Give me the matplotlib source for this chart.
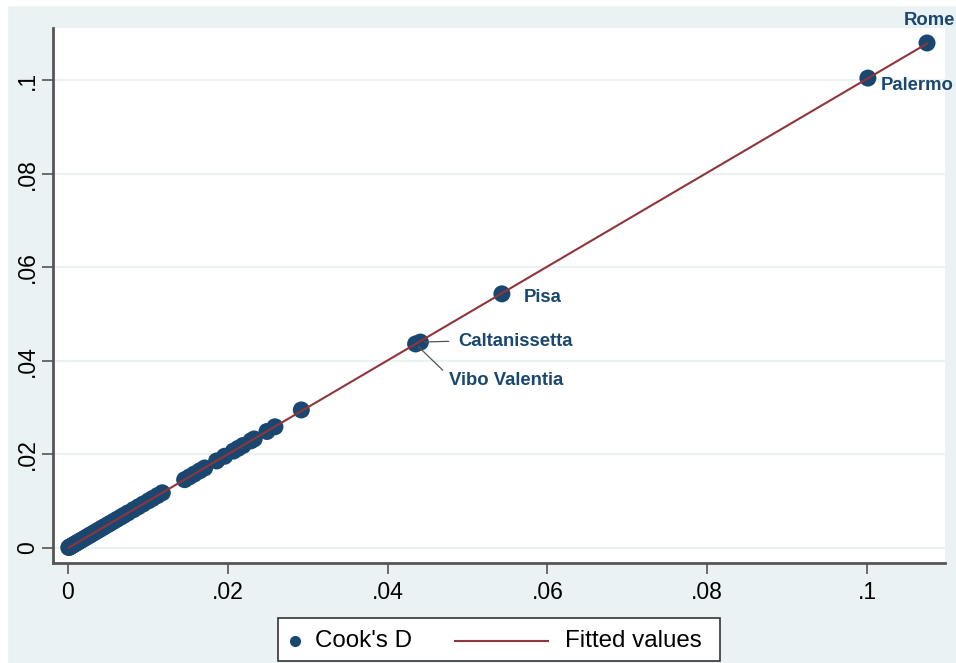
import matplotlib
matplotlib.use("Agg")
import matplotlib.pyplot as plt
import numpy as np
from matplotlib.patches import Rectangle
from matplotlib.lines import Line2D

plt.rcParams['font.family'] = ['Liberation Sans', 'DejaVu Sans']

# Data
x_vals = [0.0001, 0.0002, 0.0003, 0.0005, 0.0006, 0.0008, 0.0010, 0.0012, 0.0014, 0.0016,
          0.0018, 0.0021, 0.0023, 0.0026, 0.0028, 0.0031, 0.0034, 0.0037, 0.0040, 0.0043,
          0.0046, 0.0050, 0.0053, 0.0057, 0.0061, 0.0066, 0.0070, 0.0075, 0.0082, 0.0088,
          0.0094, 0.0101, 0.0106, 0.0112, 0.0118, 0.0146, 0.0152, 0.0158, 0.0165, 0.0171,
          0.0186, 0.0196, 0.0207, 0.0213, 0.0219, 0.0229, 0.0233, 0.0249, 0.0259, 0.0292,
          0.0435, 0.0441, 0.0543, 0.1001, 0.1075]
cooks_d = [0.0001, 0.0002, 0.0003, 0.0005, 0.0006, 0.0008, 0.0010, 0.0012, 0.0014, 0.0016,
           0.0018, 0.0021, 0.0023, 0.0026, 0.0028, 0.0031, 0.0034, 0.0037, 0.0040, 0.0043,
           0.0046, 0.0050, 0.0053, 0.0057, 0.0061, 0.0066, 0.0070, 0.0075, 0.0082, 0.0088,
           0.0094, 0.0101, 0.0106, 0.0112, 0.0118, 0.0146, 0.0152, 0.0158, 0.0165, 0.0171,
           0.0186, 0.0196, 0.0207, 0.0213, 0.0219, 0.0229, 0.0233, 0.0249, 0.0259, 0.0295,
           0.0436, 0.0440, 0.0543, 0.1004, 0.1079]

label_names = ["Rome", "Palermo", "Pisa", "Caltanissetta", "Vibo Valentia"]
label_x = [0.1075, 0.1001, 0.0543, 0.0441, 0.0435]
label_y = [0.1079, 0.1004, 0.0543, 0.0440, 0.0436]

x_ticks = [0, 0.02, 0.04, 0.06, 0.08, 0.1]
x_ticklabels = ["0", ".02", ".04", ".06", ".08", ".1"]
y_ticks = [0, 0.02, 0.04, 0.06, 0.08, 0.1]
y_ticklabels = ["0", ".02", ".04", ".06", ".08", ".1"]

legend_labels = ["Cook's D", "Fitted values"]

NAVY = "#1A476F"
MAROON = "#90353B"
BG = "#EAF2F3"

W, H = 956, 663
fig = plt.figure(figsize=(W / 100, H / 100), dpi=100, facecolor=BG)
# thin white margin on top and left like the screenshot
fig.patches.append(Rectangle((0, 0), 7 / W, 1, transform=fig.transFigure, color="white", zorder=0))
fig.patches.append(Rectangle((0, 1 - 5 / H), 1, 5 / H, transform=fig.transFigure, color="white", zorder=0))

ax = fig.add_axes([53 / W, 1 - 563 / H, (945 - 53) / W, (563 - 28) / H])
ax.set_facecolor("white")

xs = np.array(x_vals)
ys = np.array(cooks_d)
coef = np.polyfit(xs, ys, 1)
xf = np.array([xs.min(), xs.max()])
yf = np.polyval(coef, xf)

ax.scatter(xs, ys, s=150, color=NAVY, edgecolors="none", zorder=3)
ax.plot(xf, yf, color=MAROON, lw=1.5, zorder=4)

ax.set_xlim(-0.001875, 0.10975)
ax.set_ylim(-0.0032, 0.1111)

ax.set_xticks(x_ticks)
ax.set_xticklabels(x_ticklabels)
ax.set_yticks(y_ticks)
ax.set_yticklabels(y_ticklabels, rotation=90, va="center")
ax.tick_params(axis="both", direction="out", length=8, width=1.2, color="#555555",
               labelsize=16.6, labelcolor="black")
ax.tick_params(axis="x", pad=5)
ax.tick_params(axis="y", pad=2)

ax.grid(axis="y", color="#EAF2F3", lw=1.5, zorder=0)
ax.grid(axis="x", visible=False)
ax.set_axisbelow(True)

for side in ["top", "right"]:
    ax.spines[side].set_visible(False)
for side in ["left", "bottom"]:
    ax.spines[side].set_color("#555555")
    ax.spines[side].set_linewidth(2)

lab_kw = dict(color=NAVY, fontsize=13.3, fontweight="bold", textcoords="offset pixels")
# Rome: 12 o'clock
ax.annotate(label_names[0], (label_x[0], label_y[0]), xytext=(2, 14), ha="center", va="bottom", **lab_kw)
# Palermo: 3 o'clock
ax.annotate(label_names[1], (label_x[1], label_y[1]), xytext=(13, -7), ha="left", va="center", **lab_kw)
# Pisa
ax.annotate(label_names[2], (label_x[2], label_y[2]), xytext=(22, -4), ha="left", va="center", **lab_kw)
# Caltanissetta with connector
ax.annotate(label_names[3], (label_x[3], label_y[3]), xytext=(38, 1), ha="left", va="center",
            arrowprops=dict(arrowstyle="-", color="#555555", lw=0.9, shrinkA=5, shrinkB=3,
                            relpos=(0, 0.5)), **lab_kw)
# Vibo Valentia with connector
ax.annotate(label_names[4], (label_x[4], label_y[4]), xytext=(33, -37), ha="left", va="center",
            arrowprops=dict(arrowstyle="-", color="#555555", lw=0.9, shrinkA=3, shrinkB=3,
                            relpos=(0, 0.8)), **lab_kw)

# Legend box drawn in figure pixel coordinates (Stata-style layout)
def fx(px):
    return px / W

def fy(py):
    return 1 - py / H

fig.patches.append(Rectangle((fx(278), fy(661)), fx(720) - fx(278), fy(618) - fy(661),
                             transform=fig.transFigure, facecolor="white",
                             edgecolor="#333333", lw=1.2, zorder=5))
fig.lines.append(Line2D([fx(295)], [fy(641)], transform=fig.transFigure, marker="o",
                        markersize=8, color=NAVY, markeredgewidth=0, zorder=6))
fig.text(fx(315), fy(641), legend_labels[0], fontsize=17.4, ha="left", va="center",
         color="black", zorder=6)
fig.lines.append(Line2D([fx(455), fx(548)], [fy(641), fy(641)], transform=fig.transFigure,
                        color=MAROON, lw=1.5, zorder=6))
fig.text(fx(565), fy(641), legend_labels[1], fontsize=17.4, ha="left", va="center",
         color="black", zorder=6)

fig.savefig("out.png", dpi=100, facecolor=BG)
